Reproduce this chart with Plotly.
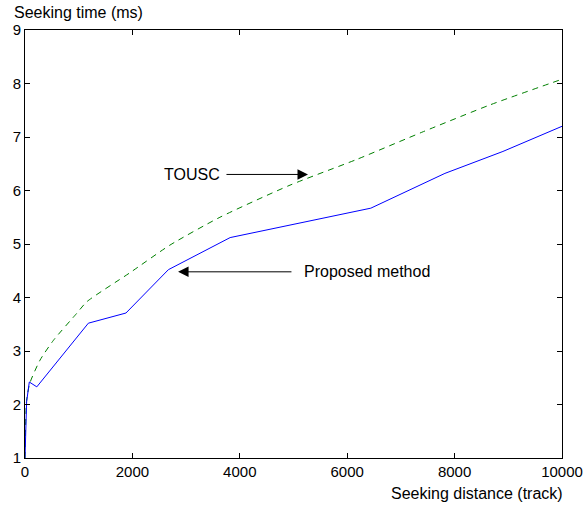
import plotly.graph_objects as go

# Data
prop_x = [0, 30, 80, 220, 1180, 1880, 2670, 3820, 6440, 7820, 8900, 10000]
prop_y = [1.0, 2.05, 2.42, 2.33, 3.52, 3.71, 4.52, 5.12, 5.67, 6.32, 6.73, 7.2]

tousc_x = [0, 30, 90, 280, 530, 960, 1150, 1950, 2700, 3630, 4935, 6176, 7418, 8659, 10000]
tousc_y = [1.0, 2.08, 2.40, 2.83, 3.2, 3.7, 3.92, 4.46, 4.98, 5.5, 6.1, 6.58, 7.1, 7.6, 8.08]

x_ticks = [0, 2000, 4000, 6000, 8000, 10000]
y_ticks = [1, 2, 3, 4, 5, 6, 7, 8, 9]

FONT = "Liberation Sans, Arial, sans-serif"
FS = 16
TFS = 15

fig = go.Figure()
fig.add_trace(go.Scatter(x=tousc_x, y=tousc_y, mode="lines", name="TOUSC",
                         line=dict(color="#008000", width=1, dash="6px,5px", shape="spline", smoothing=0.6)))
fig.add_trace(go.Scatter(x=prop_x, y=prop_y, mode="lines", name="Proposed method",
                         line=dict(color="#0000FF", width=1)))

axis_common = dict(showgrid=False, zeroline=False, showline=True, linecolor="black", linewidth=1,
                   mirror="allticks", ticks="inside", ticklen=5, tickcolor="black", automargin=False,
                   tickfont=dict(family=FONT, size=TFS, color="black"))

fig.update_xaxes(range=[0, 10000], tickvals=x_ticks, ticktext=[str(v) for v in x_ticks], **axis_common)
fig.update_yaxes(range=[1, 9], tickvals=y_ticks, ticktext=[str(v) for v in y_ticks], **axis_common)

annotations = [
    # Axis titles
    dict(text="Seeking time (ms)", xref="paper", yref="paper", x=-0.024, y=1.0, yshift=7,
         xanchor="left", yanchor="bottom", showarrow=False, font=dict(family=FONT, size=FS, color="black")),
    dict(text="Seeking distance (track)", xref="paper", yref="paper", x=1.005, y=0, yshift=-25,
         xanchor="right", yanchor="top", showarrow=False, font=dict(family=FONT, size=FS, color="black")),
    # Labels
    dict(text="TOUSC", x=3660, y=6.30, xref="x", yref="y", xanchor="right", yanchor="middle",
         showarrow=False, font=dict(family=FONT, size=FS, color="black")),
    dict(text="Proposed method", x=5150, y=4.48, xref="x", yref="y", xanchor="left", yanchor="middle",
         showarrow=False, font=dict(family=FONT, size=FS, color="black")),
    # Arrows
    dict(text="", x=5270, y=6.30, ax=3724, ay=6.30, xref="x", yref="y", axref="x", ayref="y",
         showarrow=True, arrowhead=2, arrowsize=2.1, arrowwidth=1, arrowcolor="black"),
    dict(text="", x=2850, y=4.48, ax=4990, ay=4.48, xref="x", yref="y", axref="x", ayref="y",
         showarrow=True, arrowhead=2, arrowsize=2.1, arrowwidth=1, arrowcolor="black"),
]

fig.update_layout(
    width=587, height=506,
    margin=dict(l=25, r=25, t=30, b=48, autoexpand=False),
    paper_bgcolor="white", plot_bgcolor="white",
    showlegend=False,
    annotations=annotations,
    font=dict(family=FONT, size=FS, color="black"),
)

fig.write_html("out.html", config={"displayModeBar": False},
               post_script="document.body.style.margin='0';")
